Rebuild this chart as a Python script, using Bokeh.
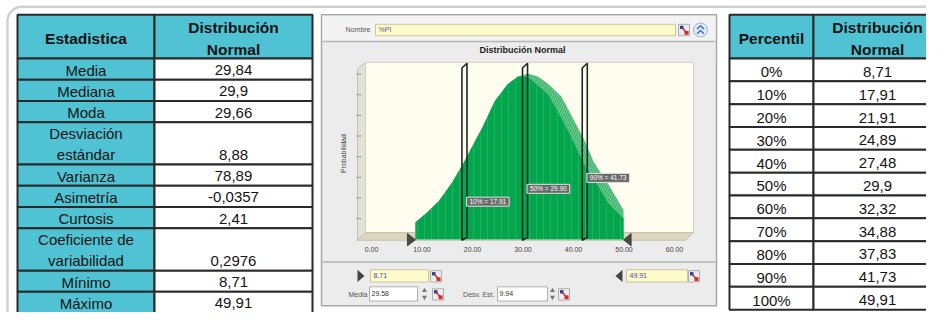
import numpy as np
from bokeh.plotting import figure
from bokeh.models import Range1d
from bokeh.core.properties import value
from bokeh.embed import file_html
from bokeh.resources import INLINE

# ---------------- data ----------------
stat_labels = ["Media", "Mediana", "Moda", "Desviación\nestándar", "Varianza",
               "Asimetría", "Curtosis", "Coeficiente de\nvariabilidad", "Mínimo", "Máximo"]
stat_values = [29.84, 29.9, 29.66, 8.88, 78.89, -0.0357, 2.41, 0.2976, 8.71, 49.91]

pct_labels = ["0%", "10%", "20%", "30%", "40%", "50%", "60%", "70%", "80%", "90%", "100%"]
pct_values = [8.71, 17.91, 21.91, 24.89, 27.48, 29.9, 32.32, 34.88, 37.83, 41.73, 49.91]

# curve (x value, probability)
curve_x = [8.71, 11, 13.3, 16, 18.2, 20, 22, 24.4, 27, 29, 31, 33, 35, 37.6, 40, 42, 44, 47, 49.91]
curve_outer = [0.0041, 0.0065, 0.0092, 0.0138, 0.0184, 0.0226, 0.0272, 0.0334, 0.0376, 0.0394,
               0.0401, 0.0394, 0.0376, 0.0346, 0.0290, 0.0244, 0.0187, 0.0131, 0.0071]
curve_solid = [0.0041, 0.0065, 0.0092, 0.0138, 0.0184, 0.0226, 0.0272, 0.0334, 0.0376, 0.0394,
               0.0393, 0.0372, 0.0350, 0.0294, 0.0236, 0.0184, 0.0146, 0.0086, 0.0050]

marker_pcts = ["10%", "50%", "90%"]
x_ticks = [0, 10, 20, 30, 40, 50, 60]
x_tick_labels = ["0.00", "10.00", "20.00", "30.00", "40.00", "50.00", "60.00"]
y_ticks = [0.005, 0.010, 0.015, 0.020, 0.025, 0.030, 0.035, 0.040]

chart_title = "Distribución Normal"
y_title = "Probabilidad"
name_label, name_text = "Nombre", "%PI"
media_label, media_text = "Media", "29.58"
sd_label, sd_text = "Desv. Est.", "9.94"

# ---------------- figure ----------------
W, H = 926, 312
XR, YR = 926, 328           # layout units across the frame
CX0, CXS = 371.0, 5.05      # chart x: layout position of 0, units per 1
CY0, CYS = 251.0, 4340.0    # chart y: layout position of 0, units per 1
p = figure(width=W, height=H, x_range=Range1d(0, XR), y_range=Range1d(YR, 0),
           output_backend="svg", toolbar_location=None, min_border=0,
           x_axis_type=None, y_axis_type=None)
p.extra_x_ranges = {"cx": Range1d((0 - CX0) / CXS, (XR - CX0) / CXS)}
p.extra_y_ranges = {"cy": Range1d((CY0 - YR) / CYS, (CY0 - 0) / CYS)}
p.outline_line_color = None
p.background_fill_color = "white"
p.border_fill_color = "white"

FONT = value("Liberation Sans")


def txt(xs, ys, ts, size, align="center", bold=False, color="#141414", **kw):
    p.text(x=xs, y=ys, text=ts, text_font=FONT, text_font_size=f"{size}px",
           text_align=align, text_baseline="middle",
           text_font_style="bold" if bold else "normal", text_color=color, **kw)


TEAL = "#4fc3d3"
BORDER = "#2a2a2a"

# outer rounded frame
r = 15
ang = np.linspace(np.pi, 1.5 * np.pi, 20)
arc_x = list(7 + r + r * np.cos(ang))
arc_y = list(6.5 + r + r * np.sin(ang))
p.line(x=[7, 7] + arc_x + [7 + r, 950], y=[340, 6.5 + r] + arc_y + [6.5, 6.5],
       line_color="#d0d0d0", line_width=2.5)

# ---------------- left table ----------------
L0, L1, L2 = 17, 154, 312
HT, HB = 15, 61
UNIT = 22.3
lines = [s.split("\n") for s in stat_labels]
tops, bots = [], []
yy = HB
for ln in lines:
    tops.append(yy)
    yy += UNIT * len(ln)
    bots.append(yy)

p.quad(left=[L0, L1], right=[L1, L2], top=[HT, HT], bottom=[HB, HB],
       fill_color=TEAL, line_color=BORDER, line_width=2)
p.quad(left=[L0] * len(tops), right=[L1] * len(tops), top=tops, bottom=bots,
       fill_color=TEAL, line_color=BORDER, line_width=2)
p.quad(left=[L1] * len(tops), right=[L2] * len(tops), top=tops, bottom=bots,
       fill_color="white", line_color=BORDER, line_width=2)

txt([(L0 + L1) / 2], [HT + 25], ["Estadistica"], 15.5, bold=True, color="#111")
txt([(L1 + L2) / 2] * 2, [HT + 13, HT + 36], ["Distribución", "Normal"], 15.5, bold=True, color="#111")

lx, ly, lt, vx, vy, vt = [], [], [], [], [], []
for t, ln, v in zip(tops, lines, stat_values):
    for k, s in enumerate(ln):
        lx.append((L0 + L1) / 2)
        ly.append(t + UNIT * (k + 0.5) + 1)
        lt.append(s)
    vx.append((L1 + L2) / 2)
    vy.append(t + UNIT * (len(ln) - 0.5) + 1)
    vt.append(f"{v:g}".replace(".", ","))
txt(lx, ly, lt, 15)
txt(vx, vy, vt, 15)

# ---------------- right table ----------------
R0, R1, R2 = 729, 813, 945
RC = 877
RH = 24
rt = [HB + RH * i for i in range(len(pct_labels))]
rb = [t + RH for t in rt]
p.quad(left=[R0, R1], right=[R1, R2], top=[HT, HT], bottom=[HB, HB],
       fill_color=TEAL, line_color=BORDER, line_width=2)
p.quad(left=[R0] * len(rt), right=[R1] * len(rt), top=rt, bottom=rb,
       fill_color="white", line_color=BORDER, line_width=2)
p.quad(left=[R1] * len(rt), right=[R2] * len(rt), top=rt, bottom=rb,
       fill_color="white", line_color=BORDER, line_width=2)
txt([(R0 + R1) / 2], [HT + 25], ["Percentil"], 15.5, bold=True, color="#111")
txt([RC] * 2, [HT + 13, HT + 36], ["Distribución", "Normal"], 15.5, bold=True, color="#111")
txt([(R0 + R1) / 2] * len(rt), [t + RH / 2 + 2 for t in rt], pct_labels, 15)
txt([RC] * len(rt), [t + RH / 2 + 2 for t in rt],
    [f"{v:g}".replace(".", ",") for v in pct_values], 15)

# ---------------- middle panel ----------------
p.quad(left=[321], right=[716], top=[15], bottom=[321], fill_color="#ececec",
       line_color="#a8a8a8", line_width=1.5)
p.quad(left=[322], right=[715], top=[16], bottom=[43], fill_color="#f3f3f3", line_color=None)
p.segment(x0=[322, 322], x1=[715, 715], y0=[43, 275], y1=[43, 275], line_color="#b5b5b5", line_width=1.5)

# top bar
txt([370], [31], [name_label], 7, align="right", color="#555")
p.quad(left=[375], right=[675], top=[25], bottom=[37], fill_color="#fdfbc9", line_color="#c9c7a0")
txt([378], [31], [name_text], 7, align="left", color="#5a5a9a")
p.circle(x=[700], y=[31], radius=7, fill_color="#e2ebf8", line_color="#9fb3d0")
p.multi_line(xs=[[696.5, 700, 703.5], [696.5, 700, 703.5]], ys=[[30, 26.5, 30], [35, 31.5, 35]],
             line_color="#3a6fd0", line_width=1.5)

# icons
ix = [678, 430, 688, 432, 558]
iy = [25, 284, 284, 303, 303]
p.quad(left=ix, right=[x + 11 for x in ix], top=iy, bottom=[y + 12 for y in iy],
       fill_color="#ececec", line_color="#a0a0a0", line_width=0.8)
p.quad(left=[x + 1.5 for x in ix], right=[x + 5 for x in ix], top=[y + 1.5 for y in iy],
       bottom=[y + 5 for y in iy], fill_color="#2c3f9c", line_color=None)
p.quad(left=[x + 6 for x in ix], right=[x + 10 for x in ix], top=[y + 7 for y in iy],
       bottom=[y + 11 for y in iy], fill_color="#d42a2a", line_color=None)
p.segment(x0=[x + 4 for x in ix], y0=[y + 4 for y in iy], x1=[x + 8 for x in ix],
          y1=[y + 9 for y in iy], line_color="#d42a2a", line_width=1.5)

# title
txt([522], [52], [chart_title], 9, bold=True, color="#222")
txt([343], [161], [y_title], 7, color="#444", angle=np.pi / 2)

# 3D walls
p.patches(xs=[[357, 365, 365, 357]], ys=[[72, 65, 244, 252]], fill_color="#e4e2d6",
          line_color="#c4c2b4", line_width=1)
p.quad(left=[365], right=[693], top=[65], bottom=[244], fill_color="#fffdef",
       line_color="#d2cfbc", line_width=1)
p.patches(xs=[[365, 693, 685, 357]], ys=[[244, 244, 252, 252]], fill_color="#dcd8bf",
          line_color="#c4c0a6", line_width=1)
p.segment(x0=[356] * len(y_ticks), x1=[361] * len(y_ticks), y0=y_ticks, y1=y_ticks,
          y_range_name="cy", line_color="#9a9a90", line_width=1)

# curve
p.varea(x=curve_x, y1=[0] * len(curve_x), y2=curve_outer, x_range_name="cx", y_range_name="cy",
        fill_color="#3cb46a", hatch_pattern="right_diagonal_line", hatch_color="white",
        hatch_alpha=0.35, hatch_scale=5, hatch_weight=1)
p.varea(x=curve_x, y1=[0] * len(curve_x), y2=curve_solid, x_range_name="cx", y_range_name="cy",
        fill_color="#03a64c", hatch_pattern="vertical_line", hatch_color="white",
        hatch_alpha=0.12, hatch_scale=7, hatch_weight=1)

# tick labels
txt(x_ticks, [262] * len(x_ticks), x_tick_labels, 7, color="#444", x_range_name="cx")

# truncation triangles
tmin, tmax = pct_values[0], pct_values[-1]
p.patches(xs=[[tmin - 1.6, tmin - 1.6, tmin], [tmax + 1.5, tmax + 1.5, tmax]],
          ys=[[245, 258, 251.5], [245, 258, 251.5]], x_range_name="cx",
          fill_color="#4a4a4a", line_color="#333", line_width=0.8)

# percentile plates and labels
mv = [pct_values[pct_labels.index(m)] for m in marker_pcts]
p.patches(xs=[[v, v, v + 1, v + 1] for v in mv], ys=[[252, 71, 66, 249] for v in mv],
          x_range_name="cx", fill_alpha=0, line_color="#1d2a22", line_width=1.6)
label_y = [211.5, 198, 186.5]
p.text(x=[v + 0.9 for v in mv], y=label_y, text=[f"{m} = {v:.2f}" for m, v in zip(marker_pcts, mv)],
       x_range_name="cx", text_font=FONT, text_font_size="6.5px", text_align="left",
       text_baseline="middle", text_color="white", background_fill_color="#6a6a6a",
       border_line_color="#e0e0e0", border_line_width=1, padding=(3, 1))

# bottom controls
p.patches(xs=[[357, 357, 364], [622, 622, 615]], ys=[[283, 296, 289.5], [283, 296, 289.5]],
          fill_color="#444", line_color=None)
p.quad(left=[370, 626], right=[428, 687], top=[283, 283], bottom=[296, 296],
       fill_color="#fdfbc9", line_color="#c9c7a0")
txt([373, 629], [289.5, 289.5], [f"{tmin:.2f}", f"{tmax:.2f}"], 7, align="left", color="#4848b0")
txt([367, 494], [309, 309], [media_label, sd_label], 7, align="right", color="#555")
p.quad(left=[369, 497], right=[417, 547], top=[301, 301], bottom=[316, 316],
       fill_color="white", line_color="#b0b0b0")
txt([371, 499], [308.5, 308.5], [media_text, sd_text], 7, align="left", color="#333")
p.scatter(x=[424, 552], y=[305, 305], marker="triangle", size=5, fill_color="#777", line_color=None)
p.scatter(x=[424, 552], y=[312, 312], marker="inverted_triangle", size=5, fill_color="#777", line_color=None)

open("out.html", "w").write(file_html(p, INLINE))
